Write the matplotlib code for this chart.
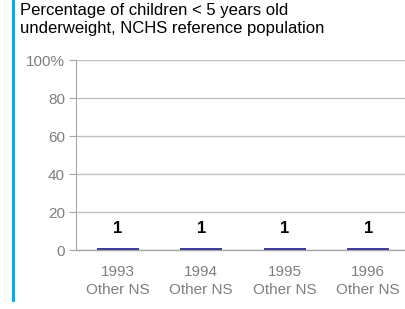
import matplotlib
matplotlib.use("Agg")
import matplotlib.pyplot as plt
from matplotlib.lines import Line2D

years = ["1993", "1994", "1995", "1996"]
groups = ["Other NS", "Other NS", "Other NS", "Other NS"]
values = [1, 1, 1, 1]
yticks = [0, 20, 40, 60, 80, 100]
ytick_labels = ["0", "20", "40", "60", "80", "100%"]

plt.rcParams['font.family'] = ['Liberation Sans', 'DejaVu Sans']

W, H = 406, 309
fig = plt.figure(figsize=(W / 100, H / 100), dpi=100)

def fx(px):
    return px / W

def fy(py):
    return 1 - py / H

ax = fig.add_axes([fx(76), fy(250), fx(410) - fx(76), fy(60) - fy(250)])
x = list(range(len(values)))
ax.bar(x, values, width=0.5, color="#40409a", zorder=3)
for xi, v in zip(x, values):
    ax.text(xi, v + 6.5, f"{v}", ha="center", va="bottom", fontsize=12,
            fontweight="bold", color="#000000", zorder=4)

ax.set_xlim(-0.5, len(values) - 0.5)
ax.set_ylim(0, 100)
ax.set_yticks(yticks)
ax.set_yticklabels(ytick_labels)
ax.set_xticks(x)
ax.set_xticklabels([f"{y}\n{g}" for y, g in zip(years, groups)], linespacing=1.3)
ax.tick_params(axis="x", length=0, pad=11, labelsize=11, colors="#7f7f7f")
ax.tick_params(axis="y", length=5, width=0.8, color="#a6a6a6", pad=3,
               labelsize=11, labelcolor="#7f7f7f")
ax.grid(axis="y", color="#bfbfbf", linewidth=1.0, zorder=0)
for s in ["top", "right"]:
    ax.spines[s].set_visible(False)
ax.spines["left"].set_color("#a6a6a6")
ax.spines["bottom"].set_color("#a6a6a6")
ax.spines["bottom"].set_linewidth(1.0)

fig.text(fx(20), fy(10), "Percentage of children < 5 years old",
         fontsize=12, va="center", ha="left", color="#000000")
fig.text(fx(20), fy(28), "underweight, NCHS reference population",
         fontsize=12, va="center", ha="left", color="#000000")

fig.add_artist(Line2D([fx(13.5), fx(13.5)], [fy(0), fy(300)],
                      transform=fig.transFigure, color="#00b0f0", linewidth=2.2))

fig.savefig("out.png", dpi=100)
